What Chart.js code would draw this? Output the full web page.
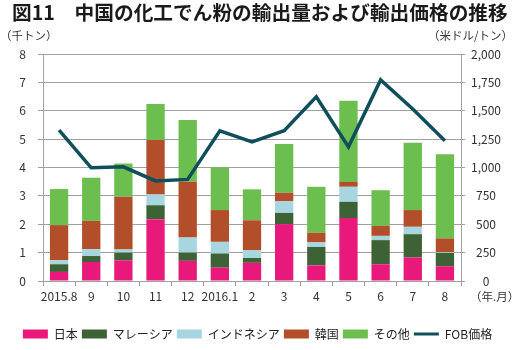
<!DOCTYPE html>
<html lang="ja">
<head>
  <meta charset="UTF-8">
  <title>中国の化工でん粉の輸出量および輸出価格の推移</title>
  <style>
    body {
      margin: 0;
      background: #fff;
    }
    #chart {
      display: block;
    }
  </style>
  <script src="https://cdn.jsdelivr.net/npm/chart.js"></script>
</head>
<body>
  <canvas id="chart" width="515" height="350"></canvas>

  <script>
    // months (x axis)
    const months = ['2015.8', '9', '10', '11', '12', '2016.1', '2', '3', '4', '5', '6', '7', '8'];

    // export volume by destination (千トン), stacked
    const japan     = [0.32, 0.67, 0.73, 2.18, 0.71, 0.47, 0.64, 2.00, 0.55, 2.22, 0.59, 0.83, 0.52];
    const malaysia  = [0.27, 0.21, 0.27, 0.49, 0.29, 0.50, 0.17, 0.40, 0.65, 0.57, 0.85, 0.82, 0.47];
    const indonesia = [0.14, 0.24, 0.11, 0.38, 0.53, 0.41, 0.27, 0.41, 0.16, 0.53, 0.15, 0.26, 0.03];
    const korea     = [1.24, 1.00, 1.86, 1.92, 1.97, 1.12, 1.06, 0.30, 0.34, 0.17, 0.35, 0.59, 0.48];
    const others    = [1.27, 1.52, 1.17, 1.27, 2.17, 1.50, 1.09, 1.72, 1.62, 2.86, 1.26, 2.37, 2.97];

    // FOB price (米ドル/トン), right axis
    const fobPrice = [1330, 997, 1006, 882, 895, 1324, 1226, 1324, 1623, 1182, 1771, 1515, 1235];

    const FONT = "'Noto Sans CJK JP', 'Noto Sans', sans-serif";
    const gridColor = '#a0a0a0';

    // title, unit labels etc. drawn on top of the chart
    const extraText = {
      id: 'extraText',
      afterDraw(chart) {
        const ctx = chart.ctx;
        ctx.save();
        ctx.fillStyle = '#1a1a1a';
        ctx.textBaseline = 'middle';
        ctx.font = 'bold 19.7px ' + FONT;
        ctx.textAlign = 'left';
        ctx.fillText('図11　中国の化工でん粉の輸出量および輸出価格の推移', 12, 13);

        ctx.font = '11.5px ' + FONT;
        ctx.fillStyle = '#333';
        ctx.fillText('（千トン）', 0, 36);
        ctx.textAlign = 'right';
        ctx.fillText('（米ドル/トン）', 513, 36);
        ctx.textAlign = 'left';
        ctx.fillText('（年.月）', 470, 297);
        ctx.restore();
      }
    };

    const barDefaults = {
      type: 'bar',
      yAxisID: 'y',
      order: 1,
      borderWidth: 0,
      categoryPercentage: 1.0,
      barPercentage: 0.57
    };

    new Chart(document.getElementById('chart').getContext('2d'), {
      data: {
        labels: months,
        datasets: [
          { ...barDefaults, label: '日本', data: japan, backgroundColor: '#e8197b' },
          { ...barDefaults, label: 'マレーシア', data: malaysia, backgroundColor: '#3d6236' },
          { ...barDefaults, label: 'インドネシア', data: indonesia, backgroundColor: '#a7d5e0' },
          { ...barDefaults, label: '韓国', data: korea, backgroundColor: '#b24e2a' },
          { ...barDefaults, label: 'その他', data: others, backgroundColor: '#6cbf4f' },
          {
            type: 'line',
            label: 'FOB価格',
            data: fobPrice,
            yAxisID: 'y1',
            order: 0,
            borderColor: '#0e4f5b',
            backgroundColor: '#0e4f5b',
            borderWidth: 3.5,
            pointRadius: 0,
            tension: 0,
            fill: false
          }
        ]
      },
      options: {
        responsive: false,
        animation: false,
        layout: {
          padding: { top: 54, left: 0, right: 0, bottom: 0 }
        },
        scales: {
          x: {
            stacked: true,
            offset: true,
            grid: {
              offset: true,
              drawOnChartArea: false,
              drawTicks: true,
              tickLength: 5,
              color: gridColor
            },
            border: { color: gridColor, width: 1 },
            ticks: {
              padding: 3,
              maxRotation: 0,
              autoSkip: false,
              color: '#333',
              font: { family: FONT, size: 12 }
            },
            afterFit(scale) { scale.height = 43; }
          },
          y: {
            stacked: true,
            position: 'left',
            min: 0,
            max: 8,
            ticks: {
              stepSize: 1,
              padding: 12,
              color: '#333',
              font: { family: FONT, size: 12 }
            },
            grid: {
              color: gridColor,
              tickLength: 5
            },
            border: { color: gridColor, width: 1 },
            afterFit(scale) { scale.width = 43; }
          },
          y1: {
            stacked: false,
            position: 'right',
            min: 0,
            max: 2000,
            ticks: {
              stepSize: 250,
              padding: 6,
              crossAlign: 'center',
              color: '#333',
              font: { family: FONT, size: 12 },
              callback: v => v.toLocaleString('en-US')
            },
            grid: {
              drawOnChartArea: false,
              color: gridColor,
              tickLength: 4
            },
            border: { color: gridColor, width: 1 },
            afterFit(scale) { scale.width = 54; }
          }
        },
        plugins: {
          title: { display: false },
          tooltip: { enabled: false },
          legend: {
            position: 'bottom',
            maxHeight: 31,
            labels: {
              usePointStyle: true,
              pointStyleWidth: 25,
              boxHeight: 9,
              padding: 4,
              color: '#222',
              font: { family: FONT, size: 12 },
              generateLabels(chart) {
                const items = Chart.defaults.plugins.legend.labels.generateLabels(chart);
                items.sort((a, b) => a.datasetIndex - b.datasetIndex);
                items.forEach(item => {
                  const ds = chart.data.datasets[item.datasetIndex];
                  // a thick 'line' point style gives the wide flat legend boxes
                  item.pointStyle = 'line';
                  item.lineCap = 'butt';
                  if (ds.type === 'line') {
                    item.lineWidth = 3;
                    item.strokeStyle = ds.borderColor;
                  } else {
                    item.lineWidth = 9;
                    item.strokeStyle = ds.backgroundColor;
                  }
                });
                return items;
              }
            }
          }
        }
      },
      plugins: [extraText]
    });
  </script>
</body>
</html>
